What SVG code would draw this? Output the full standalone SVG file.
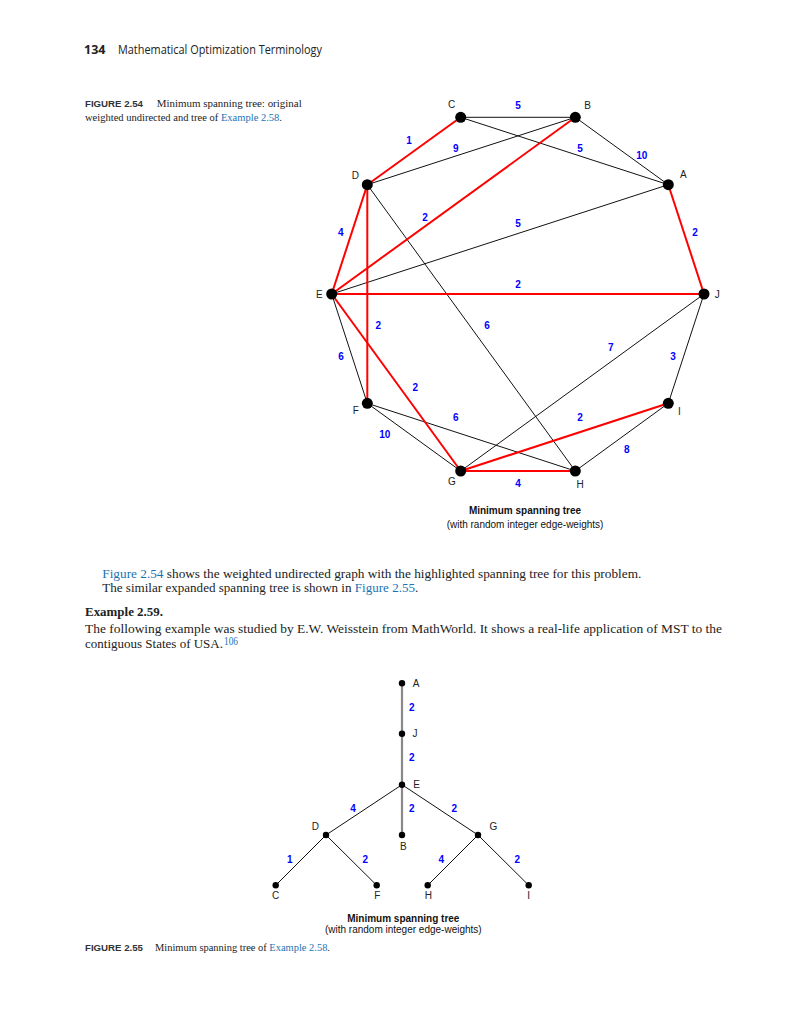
<svg xmlns="http://www.w3.org/2000/svg" width="800" height="1024" viewBox="0 0 800 1024">
<style>
.hdr{font-family:"Open Sans","Liberation Sans",sans-serif;font-size:12.5px;fill:#222}
.cap{font-family:"Liberation Serif",serif;font-size:9.8px;fill:#222}
.capb{font-family:"Liberation Sans",sans-serif;font-size:9.8px;font-weight:bold;fill:#333}
.body{font-family:"Liberation Serif",serif;font-size:12px;fill:#222}
.link{fill:#1a73b5}
.nl{font-family:"Liberation Sans",sans-serif;font-size:10px;fill:#222;text-anchor:middle}
.wl{font-family:"Liberation Sans",sans-serif;font-size:10px;font-weight:bold;fill:#0000ff;text-anchor:middle}
.nl2{font-family:"Liberation Sans",sans-serif;font-size:10px;fill:#222;text-anchor:middle}
.wl2{font-family:"Liberation Sans",sans-serif;font-size:10px;font-weight:bold;fill:#0000ff;text-anchor:middle}
.ttl{font-family:"Liberation Sans",sans-serif;font-size:10px;fill:#111;text-anchor:middle}
.red{stroke:#ff0000;stroke-width:2;fill:none}
.blk{stroke:#111;stroke-width:1;fill:none}
.gry{stroke:#888;stroke-width:2.2;fill:none}
.dot{fill:#000}
</style>

<!-- Header -->
<text x="84" y="54" class="hdr"><tspan font-weight="bold">134</tspan></text>
<text x="118" y="54" class="hdr" textLength="204" lengthAdjust="spacingAndGlyphs">Mathematical Optimization Terminology</text>

<!-- Caption 2.54 -->
<text x="85" y="106.5" class="capb" textLength="58" lengthAdjust="spacingAndGlyphs">FIGURE 2.54</text>
<text x="156.7" y="106.5" class="cap" textLength="145" lengthAdjust="spacingAndGlyphs">Minimum spanning tree: original</text>
<text x="85" y="121.3" class="cap" textLength="197" lengthAdjust="spacingAndGlyphs">weighted undirected and tree of <tspan class="link">Example 2.58</tspan>.</text>

<!-- Top graph connectors -->
<g id="edges-top">
  <line class="blk" x1="460.7" y1="117.3" x2="575.3" y2="117.3"/>
  <line class="blk" x1="460.7" y1="117.3" x2="668.3" y2="184.7"/>
  <line class="blk" x1="367.3" y1="184.7" x2="575.3" y2="117.3"/>
  <line class="blk" x1="575.3" y1="117.3" x2="668.3" y2="184.7"/>
  <line class="blk" x1="331.7" y1="294" x2="668.3" y2="184.7"/>
  <line class="blk" x1="367.3" y1="184.7" x2="575.3" y2="471"/>
  <line class="blk" x1="331.7" y1="294" x2="367.3" y2="403.3"/>
  <line class="blk" x1="704" y1="294" x2="460.7" y2="471"/>
  <line class="blk" x1="704" y1="294" x2="668.3" y2="403.3"/>
  <line class="blk" x1="367.3" y1="403.3" x2="460.7" y2="471"/>
  <line class="blk" x1="367.3" y1="403.3" x2="575.3" y2="471"/>
  <line class="blk" x1="668.3" y1="403.3" x2="575.3" y2="471"/>
  <line class="red" x1="460.7" y1="117.3" x2="367.3" y2="184.7"/>
  <line class="red" x1="575.3" y1="117.3" x2="331.7" y2="294"/>
  <line class="red" x1="367.3" y1="184.7" x2="331.7" y2="294"/>
  <line class="red" x1="367.3" y1="184.7" x2="367.3" y2="403.3"/>
  <line class="red" x1="331.7" y1="294" x2="704" y2="294"/>
  <line class="red" x1="668.3" y1="184.7" x2="704" y2="294"/>
  <line class="red" x1="331.7" y1="294" x2="460.7" y2="471"/>
  <line class="red" x1="460.7" y1="471" x2="668.3" y2="403.3"/>
  <line class="red" x1="460.7" y1="471" x2="575.3" y2="471"/>
</g>
<g id="weights-top">
  <text class="wl" x="518" y="108.5">5</text>
  <text class="wl" x="409" y="143.5">1</text>
  <text class="wl" x="455.7" y="152">9</text>
  <text class="wl" x="580" y="152">5</text>
  <text class="wl" x="641.7" y="158.7">10</text>
  <text class="wl" x="425" y="220.7">2</text>
  <text class="wl" x="518" y="226.7">5</text>
  <text class="wl" x="340.7" y="236">4</text>
  <text class="wl" x="695" y="236">2</text>
  <text class="wl" x="518" y="288">2</text>
  <text class="wl" x="378.3" y="328.7">2</text>
  <text class="wl" x="487" y="328.7">6</text>
  <text class="wl" x="610.7" y="350.7">7</text>
  <text class="wl" x="673" y="359.7">3</text>
  <text class="wl" x="341" y="359.7">6</text>
  <text class="wl" x="415.3" y="390.7">2</text>
  <text class="wl" x="455.7" y="421.4">6</text>
  <text class="wl" x="580" y="421.4">2</text>
  <text class="wl" x="384.7" y="437.7">10</text>
  <text class="wl" x="626.7" y="452.7">8</text>
  <text class="wl" x="518" y="486.7">4</text>
</g>
<g id="nodeC"><circle class="dot" cx="460.7" cy="117.3" r="5.5"/><text class="nl" x="451.7" y="108.3">C</text></g>
<g id="nodeB"><circle class="dot" cx="575.3" cy="117.3" r="5.5"/><text class="nl" x="587.7" y="108.9">B</text></g>
<g id="nodeD"><circle class="dot" cx="367.3" cy="184.7" r="5.5"/><text class="nl" x="355.3" y="178.9">D</text></g>
<g id="nodeA"><circle class="dot" cx="668.3" cy="184.7" r="5.5"/><text class="nl" x="683.3" y="177.6">A</text></g>
<g id="nodeE"><circle class="dot" cx="331.7" cy="294" r="5.5"/><text class="nl" x="319.3" y="297.6">E</text></g>
<g id="nodeJ"><circle class="dot" cx="704" cy="294" r="5.5"/><text class="nl" x="717.3" y="297.6">J</text></g>
<g id="nodeF"><circle class="dot" cx="367.3" cy="403.3" r="5.5"/><text class="nl" x="355.7" y="414.3">F</text></g>
<g id="nodeI"><circle class="dot" cx="668.3" cy="403.3" r="5.5"/><text class="nl" x="679.3" y="414.9">I</text></g>
<g id="nodeG"><circle class="dot" cx="460.7" cy="471" r="5.5"/><text class="nl" x="452" y="485.3">G</text></g>
<g id="nodeH"><circle class="dot" cx="575.3" cy="471" r="5.5"/><text class="nl" x="580" y="488.3">H</text></g>
<text class="ttl" x="525" y="514.3" font-weight="bold">Minimum spanning tree</text>
<text class="ttl" x="525" y="527.9">(with random integer edge-weights)</text>

<!-- Body text -->
<text x="102.3" y="578.3" class="body" textLength="539" lengthAdjust="spacingAndGlyphs"><tspan class="link">Figure 2.54</tspan> shows the weighted undirected graph with the highlighted spanning tree for this problem.</text>
<text x="102.3" y="592.3" class="body" textLength="316" lengthAdjust="spacingAndGlyphs">The similar expanded spanning tree is shown in <tspan class="link">Figure 2.55</tspan>.</text>
<text x="85" y="616.3" class="body" font-weight="bold" textLength="78" lengthAdjust="spacingAndGlyphs">Example 2.59.</text>
<text x="85" y="633" class="body" textLength="637" lengthAdjust="spacingAndGlyphs">The following example was studied by E.W. Weisstein from MathWorld. It shows a real-life application of MST to the</text>
<text x="85" y="648" class="body" textLength="138" lengthAdjust="spacingAndGlyphs">contiguous States of USA.</text>
<text x="224" y="645" class="body link" font-size="6.5" textLength="14" lengthAdjust="spacingAndGlyphs">106</text>

<!-- Bottom tree -->
<g id="edges-tree">
  <line class="gry" x1="402" y1="683.3" x2="402" y2="835"/>
  <line class="blk" x1="402" y1="784.7" x2="326" y2="835"/>
  <line class="blk" x1="402" y1="784.7" x2="478" y2="835"/>
  <line class="blk" x1="326" y1="835" x2="275.7" y2="885.3"/>
  <line class="blk" x1="326" y1="835" x2="376.7" y2="885.3"/>
  <line class="blk" x1="478" y1="835" x2="427.7" y2="885.3"/>
  <line class="blk" x1="478" y1="835" x2="528.7" y2="885.3"/>
</g>
<g id="weights-tree">
  <text class="wl2" x="411.7" y="711">2</text>
  <text class="wl2" x="411.7" y="761.3">2</text>
  <text class="wl2" x="353" y="812.3">4</text>
  <text class="wl2" x="411.7" y="812.3">2</text>
  <text class="wl2" x="454.3" y="812.3">2</text>
  <text class="wl2" x="289.7" y="863.3">1</text>
  <text class="wl2" x="365.3" y="863.3">2</text>
  <text class="wl2" x="441.3" y="863.3">4</text>
  <text class="wl2" x="517.3" y="863.3">2</text>
</g>
<g id="tA"><circle class="dot" cx="402" cy="683.3" r="3.2"/><text class="nl2" x="416" y="686.8">A</text></g>
<g id="tJ"><circle class="dot" cx="402" cy="733.7" r="3.2"/><text class="nl2" x="415" y="736.5">J</text></g>
<g id="tE"><circle class="dot" cx="402" cy="784.7" r="3.2"/><text class="nl2" x="416.7" y="787.5">E</text></g>
<g id="tD"><circle class="dot" cx="326" cy="835" r="3.2"/><text class="nl2" x="315.3" y="829.5">D</text></g>
<g id="tB"><circle class="dot" cx="402" cy="835" r="3.2"/><text class="nl2" x="403.3" y="849.5">B</text></g>
<g id="tG"><circle class="dot" cx="478" cy="835" r="3.2"/><text class="nl2" x="493.3" y="829.5">G</text></g>
<g id="tC"><circle class="dot" cx="275.7" cy="885.3" r="3.2"/><text class="nl2" x="275.7" y="898.5">C</text></g>
<g id="tF"><circle class="dot" cx="376.7" cy="885.3" r="3.2"/><text class="nl2" x="377.3" y="898.5">F</text></g>
<g id="tH"><circle class="dot" cx="427.7" cy="885.3" r="3.2"/><text class="nl2" x="428.3" y="898.5">H</text></g>
<g id="tI"><circle class="dot" cx="528.7" cy="885.3" r="3.2"/><text class="nl2" x="528.7" y="898.5">I</text></g>
<text class="ttl" x="403.3" y="921.5" font-size="9.5" font-weight="bold">Minimum spanning tree</text>
<text class="ttl" x="403.3" y="932.5" font-size="9.5">(with random integer edge-weights)</text>

<!-- Caption 2.55 -->
<text x="85" y="950.5" class="capb" textLength="58" lengthAdjust="spacingAndGlyphs">FIGURE 2.55</text>
<text x="155" y="950.5" class="cap" textLength="175" lengthAdjust="spacingAndGlyphs">Minimum spanning tree of <tspan class="link">Example 2.58</tspan>.</text>
</svg>
